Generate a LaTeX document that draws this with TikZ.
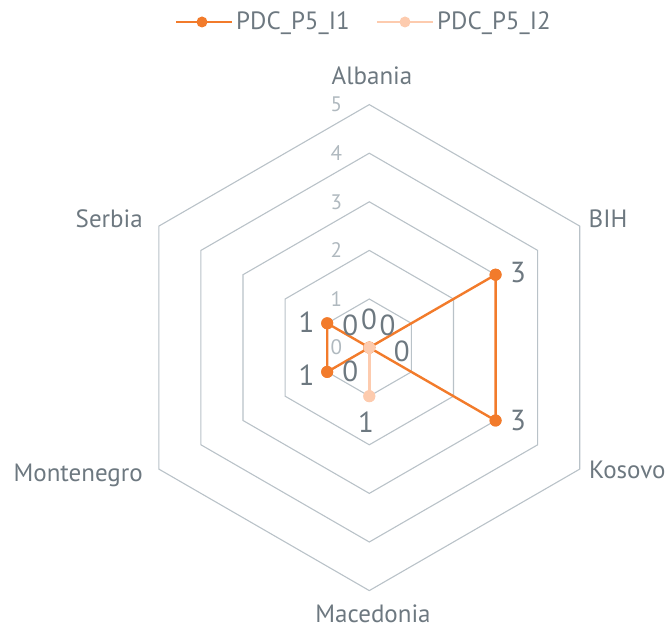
\documentclass[tikz,border=0pt]{standalone}
\usepackage{fontspec}
\setmainfont{PT Sans}
\definecolor{serA}{HTML}{F27B2B}
\definecolor{serB}{HTML}{FDCBAE}
\definecolor{gridc}{HTML}{B9C2C8}
\definecolor{txtc}{HTML}{6D7880}
\definecolor{scalec}{HTML}{B0B9BF}
\tikzset{
  gridline/.style={draw=gridc, line width=1.1pt, line join=miter},
  lineA/.style={draw=serA, line width=2.4pt, line join=round},
  lineB/.style={draw=serB, line width=2.4pt, line join=round},
  dotA/.style={circle, fill=serA, inner sep=0pt, minimum size=12pt},
  dotB/.style={circle, fill=serB, inner sep=0pt, minimum size=12pt},
  axislabel/.style={text=txtc, font=\fontsize{25}{25}\selectfont, inner sep=0pt},
  datalabel/.style={text=txtc, font=\fontsize{29}{29}\selectfont, inner sep=0pt},
  scalelabel/.style={text=scalec, font=\fontsize{21}{21}\selectfont, inner sep=0pt},
  legendtext/.style={text=txtc, font=\fontsize{25}{25}\selectfont, inner sep=0pt, anchor=base west},
}
\begin{document}
\begin{tikzpicture}[x=1pt, y=-1pt]
\useasboundingbox (0,0) rectangle (670,628);
\def\u{48.6}
\begin{scope}[shift={(369.3,347.6)}]
  % hexagonal grid rings
  \foreach \r in {1,...,5} {
    \draw[gridline] (270:\r*\u) -- (330:\r*\u) -- (30:\r*\u) -- (90:\r*\u)
      -- (150:\r*\u) -- (210:\r*\u) -- cycle;
  }
  % scale numbers
  \foreach \r in {0,...,5} {
    \node[scalelabel] (s\r) at (-33, -\r*\u) {\r};
  }
  \coordinate (c) at (0,0);
  % series PDC_P5_I1
  \node[dotA] (a1) at (0,0) {};
  \node[dotA] (a2) at (330:3*\u) {};
  \node[dotA] (a3) at (30:3*\u) {};
  \node[dotA] (a4) at (0,0) {};
  \node[dotA] (a5) at (150:1*\u) {};
  \node[dotA] (a6) at (210:1*\u) {};
  \draw[lineA] (c) -- (a2.center) -- (a3.center) -- (c) -- (a5.center) -- (a6.center) -- cycle;
  \foreach \n in {a2,a3,a5,a6} { \node[dotA] at (\n) {}; }
  % series PDC_P5_I2
  \node[dotB] (b4) at (90:1*\u) {};
  \draw[lineB] (c) -- (b4.center);
  \node[dotB] (b1) at (0,0) {};
  \node[dotB] at (b4) {};
\end{scope}
% value labels
\node[datalabel] (v1) at (518,272.5) {3};
\node[datalabel] (v2) at (518,420.5) {3};
\node[datalabel] (v3) at (306.5,322.5) {1};
\node[datalabel] (v4) at (306.5,375) {1};
\node[datalabel] (v5) at (350.3,325) {0};
\node[datalabel] (v6) at (369,319.7) {0};
\node[datalabel] (v7) at (387.5,325) {0};
\node[datalabel] (v8) at (401.7,351.7) {0};
\node[datalabel] (v9) at (350.3,371.7) {0};
\node[datalabel] (v10) at (366,422.5) {1};
% axis names
\node[axislabel, anchor=base] (albania) at (372,85) {Albania};
\node[axislabel, anchor=base west] (bih) at (588.5,227.3) {BIH};
\node[axislabel, anchor=base west] (kosovo) at (589,478.3) {Kosovo};
\node[axislabel, anchor=base] (macedonia) at (373,622.5) {Macedonia};
\node[axislabel, anchor=base east] (montenegro) at (143,481.7) {Montenegro};
\node[axislabel, anchor=base east] (serbia) at (143,227.3) {Serbia};
% legend
\coordinate (l1s) at (176,22);
\coordinate (l1e) at (232,22);
\draw[lineA, line width=2.6pt] (l1s) -- (l1e);
\node[dotA, minimum size=11pt] (l1d) at (202,22) {};
\node[legendtext] (l1t) at (236,30) {PDC\_P5\_I1};
\coordinate (l2s) at (377,22);
\coordinate (l2e) at (433,22);
\draw[lineB, line width=2.6pt] (l2s) -- (l2e);
\node[dotB, minimum size=11pt] (l2d) at (405,22) {};
\node[legendtext] (l2t) at (437,30) {PDC\_P5\_I2};
\end{tikzpicture}
\end{document}
